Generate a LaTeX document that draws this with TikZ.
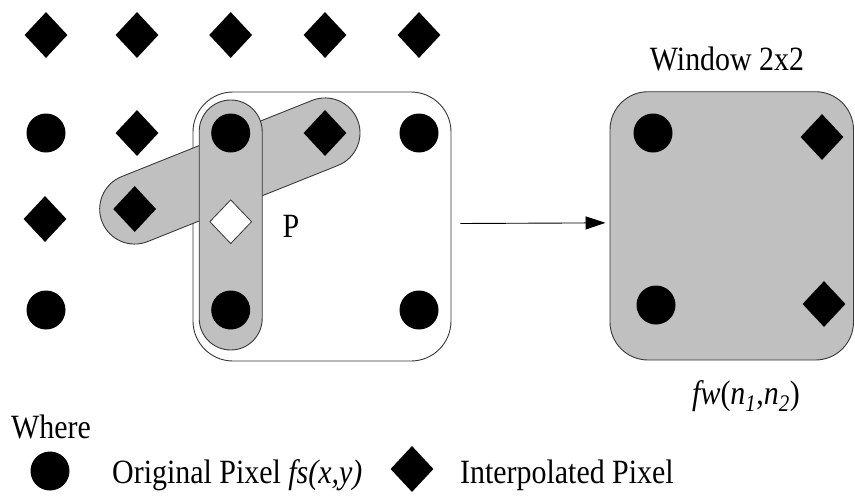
\documentclass[tikz,border=0pt]{standalone}
\usepackage{fontspec}
\setmainfont{Liberation Serif}[FakeStretch=0.88]
\usetikzlibrary{shapes.geometric,arrows.meta}
\definecolor{shade}{RGB}{192,192,192}
\definecolor{edge}{RGB}{55,55,55}
\begin{document}
\begin{tikzpicture}[x=1pt,y=-1pt,
  orig/.style={circle,fill=black,inner sep=0pt,minimum size=39pt},
  interp/.style={diamond,fill=black,inner sep=0pt,minimum width=43pt,minimum height=46pt},
  hole/.style={diamond,fill=white,draw=edge,line width=0.8pt,inner sep=0pt,minimum width=42pt,minimum height=44pt},
  band/.style={draw=edge,fill=shade,line width=0.9pt,inner sep=0pt},
  frame/.style={draw=edge,line width=0.9pt,inner sep=0pt},
  lbl/.style={font=\fontsize{34}{40}\selectfont,inner sep=0pt},
  link/.style={draw=black,line width=0.9pt,-{Triangle[length=20pt,width=13pt]}}]
\useasboundingbox (0,0) rectangle (855,501);

% sampling window on the source grid
\node[frame,fill=white,rounded corners=40pt,minimum width=258pt,minimum height=269pt] (win) at (322,226.5) {};

% interpolation bands
\node[band,rounded corners=35pt,minimum width=275pt,minimum height=70pt,rotate=21.8] (tilt) at (229.85,171) {};
\node[band,rounded corners=31.5pt,minimum width=63pt,minimum height=250pt] (vert) at (230.7,225) {};

% source grid: row 1
\node[interp] (d11) at (46,35) {};
\node[interp] (d12) at (137,35) {};
\node[interp] (d13) at (230.7,35) {};
\node[interp] (d14) at (325,35) {};
\node[interp] (d15) at (419,35) {};
% row 2
\node[orig]   (c21) at (46,133) {};
\node[interp] (d22) at (137,133) {};
\node[orig]   (c23) at (230.7,133) {};
\node[interp] (d24) at (325,133) {};
\node[orig]   (c25) at (419,133) {};
% row 3
\node[interp] (d31) at (45,219) {};
\node[interp] (d32) at (134.7,209) {};
\node[hole]   (p)   at (230.7,221.7) {};
\node[lbl] (plbl) at (291,226) {P};
% row 4
\node[orig] (c41) at (46,310) {};
\node[orig] (c43) at (230.7,310) {};
\node[orig] (c45) at (419,310) {};

% resulting 2x2 window
\node[frame,fill=shade,rounded corners=38pt,minimum width=243.5pt,minimum height=268.3pt] (out) at (731.75,225.85) {};
\node[orig]   (w11) at (653,133) {};
\node[orig]   (w21) at (656,305) {};
\node[interp] (w12) at (822,137) {};
\node[interp] (w22) at (824,304) {};
\node[lbl] (title) at (727,59) {Window 2x2};
\node[lbl] (fw) at (746,396) {\textit{fw}(\textit{n}\textsubscript{\textit{1}},\textit{n}\textsubscript{\textit{2}})};

\draw[link] ([shift={(9,-3)}]win.east) -- ([shift={(-4,-3)}]out.west);

% legend
\node[lbl,anchor=base west] (where) at (11,438) {Where};
\node[orig] (lc) at (50,471) {};
\node[lbl,anchor=base west] (lct) at (112,483) {Original Pixel \textit{fs(x,y)}};
\node[interp] (ld) at (412,469) {};
\node[lbl,anchor=base west] (ldt) at (460,483) {Interpolated Pixel};
\end{tikzpicture}
\end{document}
